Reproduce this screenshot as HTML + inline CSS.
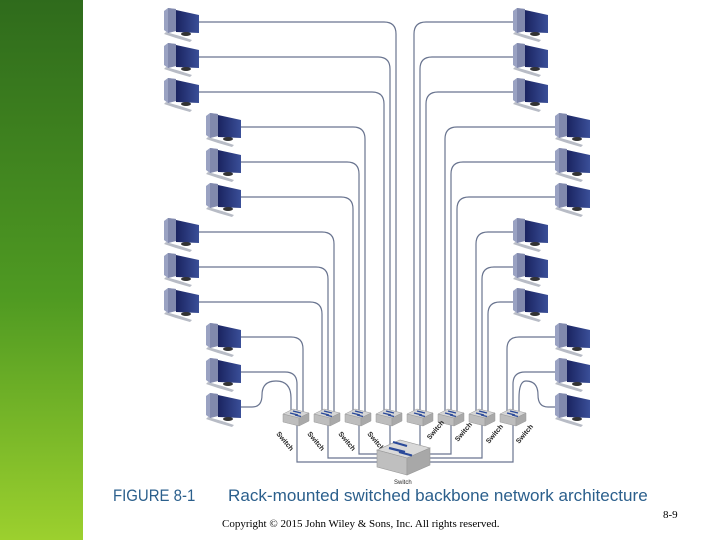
<!DOCTYPE html>
<html><head><meta charset="utf-8"><style>
html,body{margin:0;padding:0;background:#fff;}
body{width:720px;height:540px;position:relative;overflow:hidden;font-family:"Liberation Sans",sans-serif;}
.bar{position:absolute;left:0;top:0;width:83px;height:540px;background:linear-gradient(#2f6b1c,#4f9a22 55%,#9cd02e);}
svg{position:absolute;left:0;top:0;}
.fig{position:absolute;left:113px;top:486px;font-size:17px;color:#2b5f8c;white-space:nowrap;transform:scaleX(0.88);transform-origin:left top;}
.cap{position:absolute;left:228px;top:486px;font-size:17px;color:#2b5f8c;white-space:nowrap;transform:scaleX(1.005);transform-origin:left top;}
.copy{position:absolute;left:222px;top:518px;font-family:"Liberation Serif",serif;font-size:11px;color:#000;}
.pg{position:absolute;left:663px;top:509px;font-family:"Liberation Serif",serif;font-size:11px;color:#000;}
</style></head><body>
<div class="bar"></div>
<svg width="720" height="540" viewBox="0 0 720 540">
<defs>
<linearGradient id="mon" x1="0" y1="0" x2="1" y2="0"><stop offset="0" stop-color="#1a2360"/><stop offset="1" stop-color="#3a4f98"/></linearGradient>
<g id="pc">
<polygon points="2,24 16,28 28,32 26,34 12,30 0,26" fill="#b8bcc6"/>
<polygon points="0,3 4,0 12,1 12,23 4,25 0,22" fill="#9aa2c2"/>
<polygon points="4,0 12,1 12,23 4,25" fill="#8189ad"/>
<polygon points="12,2 35,7 35,25 12,24" fill="url(#mon)"/>
<ellipse cx="22" cy="26" rx="5" ry="2" fill="#333"/>
</g>
<g id="sw">
<polygon points="-13,-4 -3,-9 13,-5 3,0" fill="#d6d6d6" stroke="#999" stroke-width="0.5"/>
<polygon points="-13,-4 3,0 3,8 -13,4" fill="#bdbdbd" stroke="#999" stroke-width="0.5"/>
<polygon points="3,0 13,-5 13,3 3,8" fill="#a9a9a9" stroke="#999" stroke-width="0.5"/>
<path d="M-6,-5 l8,2 M-3,-7 l8,2 M-1,-3 l6,1.5" stroke="#2b4a9a" stroke-width="1.4"/>
</g>
</defs>
<g fill="none" stroke="#6a7590" stroke-width="1.2">
<path d="M198 22H384Q396 22 396 34V412"/>
<path d="M198 57H378Q390 57 390 69V412"/>
<path d="M198 92H372Q384 92 384 104V412"/>
<path d="M240 127H353Q365 127 365 139V412"/>
<path d="M240 162H347Q359 162 359 174V412"/>
<path d="M240 197H341Q353 197 353 209V412"/>
<path d="M198 232H322Q334 232 334 244V412"/>
<path d="M198 267H316Q328 267 328 279V412"/>
<path d="M198 302H310Q322 302 322 314V412"/>
<path d="M240 337H291Q303 337 303 349V412"/>
<path d="M240 372H285Q297 372 297 384V412"/>
<path d="M240 407H252Q262 407 262 395Q262 381 276 381Q291 381 291 398V412"/>
<path d="M513 22H426Q414 22 414 34V412"/>
<path d="M513 57H432Q420 57 420 69V412"/>
<path d="M513 92H438Q426 92 426 104V412"/>
<path d="M555 127H457Q445 127 445 139V412"/>
<path d="M555 162H463Q451 162 451 174V412"/>
<path d="M555 197H469Q457 197 457 209V412"/>
<path d="M513 232H488Q476 232 476 244V412"/>
<path d="M513 267H494Q482 267 482 279V412"/>
<path d="M513 302H500Q488 302 488 314V412"/>
<path d="M555 337H519Q507 337 507 349V412"/>
<path d="M555 372H525Q513 372 513 384V412"/>
<path d="M555 407H548Q538 407 538 395Q538 381 526 381Q519 381 519 398V412"/>
<path d="M297 420V462H380M328 420V458H380M359 420V454H385M390 420V450"/>
<path d="M420 420V450M451 420V454H425M482 420V458H430M513 420V462H430"/>
</g>
<g>
<use href="#pc" x="164" y="8"/><use href="#pc" x="164" y="43"/><use href="#pc" x="164" y="78"/>
<use href="#pc" x="206" y="113"/><use href="#pc" x="206" y="148"/><use href="#pc" x="206" y="183"/>
<use href="#pc" x="164" y="218"/><use href="#pc" x="164" y="253"/><use href="#pc" x="164" y="288"/>
<use href="#pc" x="206" y="323"/><use href="#pc" x="206" y="358"/><use href="#pc" x="206" y="393"/>
<use href="#pc" x="513" y="8"/><use href="#pc" x="513" y="43"/><use href="#pc" x="513" y="78"/>
<use href="#pc" x="555" y="113"/><use href="#pc" x="555" y="148"/><use href="#pc" x="555" y="183"/>
<use href="#pc" x="513" y="218"/><use href="#pc" x="513" y="253"/><use href="#pc" x="513" y="288"/>
<use href="#pc" x="555" y="323"/><use href="#pc" x="555" y="358"/><use href="#pc" x="555" y="393"/>
</g>
<g>
<use href="#sw" x="296" y="418"/><use href="#sw" x="327" y="418"/><use href="#sw" x="358" y="418"/><use href="#sw" x="389" y="418"/>
<use href="#sw" x="420" y="418"/><use href="#sw" x="451" y="418"/><use href="#sw" x="482" y="418"/><use href="#sw" x="513" y="418"/>
</g>
<g font-size="7" fill="#222" font-weight="bold" font-family="Liberation Sans,sans-serif">
<text transform="translate(276,434) rotate(50)">Switch</text>
<text transform="translate(307,434) rotate(50)">Switch</text>
<text transform="translate(338,434) rotate(50)">Switch</text>
<text transform="translate(367,434) rotate(50)">Switch</text>
<text transform="translate(430,440) rotate(-50)">Switch</text>
<text transform="translate(458,442) rotate(-50)">Switch</text>
<text transform="translate(489,444) rotate(-50)">Switch</text>
<text transform="translate(519,444) rotate(-50)">Switch</text>
<text x="394" y="484" font-size="6" font-weight="normal">Switch</text>
</g>
<g>
<polygon points="377,450 400,440 430,448 407,458" fill="#d9d9d9" stroke="#999" stroke-width="0.6"/>
<polygon points="377,450 407,458 407,475 377,467" fill="#bfbfbf" stroke="#999" stroke-width="0.6"/>
<polygon points="407,458 430,448 430,465 407,475" fill="#a8a8a8" stroke="#999" stroke-width="0.6"/>
<path d="M393,442 l14,4 M389,448 l16,4 M399,452 l13,3.5" stroke="#2b4a9a" stroke-width="2.2"/>
</g>
</svg>
<div class="fig">FIGURE 8-1</div>
<div class="cap">Rack-mounted switched backbone network architecture</div>
<div class="copy">Copyright © 2015 John Wiley &amp; Sons, Inc. All rights reserved.</div>
<div class="pg">8-9</div>
</body></html>
